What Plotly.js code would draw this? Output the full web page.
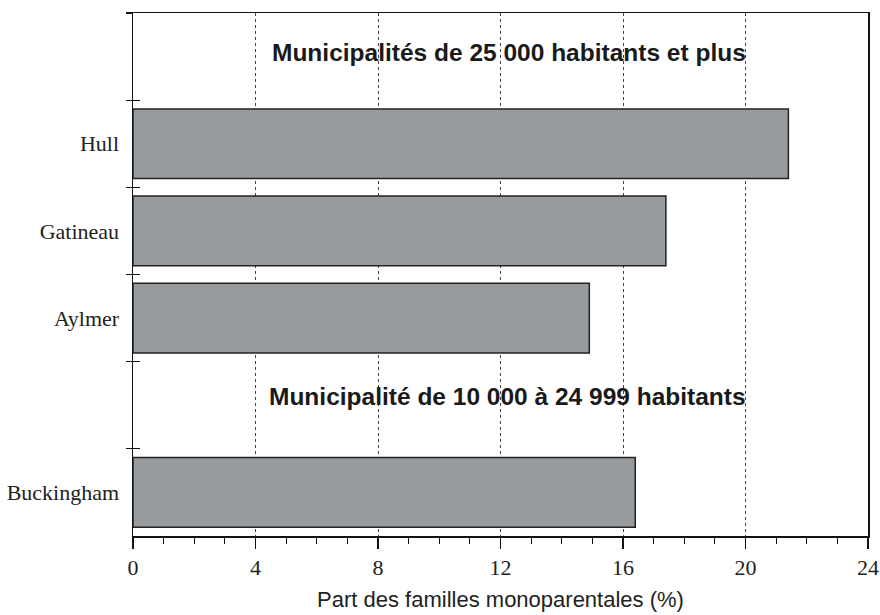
<!DOCTYPE html>
<html>
<head>
<meta charset="utf-8">
<script src="https://cdn.plot.ly/plotly-3.0.1.min.js"></script>
<style>html,body{margin:0;padding:0;background:#fff;}#chart{width:880px;height:615px;}</style>
</head>
<body>
<div id="chart"></div>
<script>
// Data
var municipalities = ['Hull', 'Gatineau', 'Aylmer', 'Buckingham'];
var shares = [21.4, 17.4, 14.9, 16.4];
var groupHeadings = ['Municipalités de 25 000 habitants et plus', 'Municipalité de 10 000 à 24 999 habitants'];
var headingSlots = [' ', '  '];
var slotOrder = [' ', 'Hull', 'Gatineau', 'Aylmer', '  ', 'Buckingham'];
var xTicks = [0, 4, 8, 12, 16, 20, 24];
var xTitle = 'Part des familles monoparentales (%)';

var serif = 'Liberation Serif, Times New Roman, serif';
var sans = 'Liberation Sans, Arial, sans-serif';

var traces = [
  {
    type: 'bar',
    orientation: 'h',
    y: municipalities,
    x: shares,
    marker: {color: '#989b9e', line: {color: '#222222', width: 1.5}},
    width: 0.8,
    hoverinfo: 'x+y'
  },
  {
    type: 'scatter',
    mode: 'markers',
    y: slotOrder,
    x: slotOrder.map(function(){return null;}),
    yaxis: 'y2',
    hoverinfo: 'skip',
    showlegend: false
  }
];

var yBase = {
  type: 'category',
  categoryorder: 'array',
  categoryarray: slotOrder,
  range: [5.5, -0.5],
  tickson: 'boundaries',
  showgrid: false,
  zeroline: false,
  fixedrange: true
};

var layout = {
  width: 880,
  height: 615,
  margin: {l: 133, r: 12, t: 12.5, b: 79},
  paper_bgcolor: '#ffffff',
  plot_bgcolor: '#ffffff',
  showlegend: false,
  xaxis: {
    range: [0, 24],
    tickvals: xTicks,
    ticks: 'outside',
    ticklen: 11,
    tickwidth: 1.2,
    tickcolor: '#111',
    minor: {dtick: 1, ticks: 'outside', ticklen: 6, tickwidth: 1, tickcolor: '#111', showgrid: false},
    showgrid: true,
    gridcolor: '#444',
    griddash: 'dot',
    gridwidth: 1,
    zeroline: false,
    showline: true,
    linecolor: '#111',
    linewidth: 1.5,
    mirror: true,
    tickfont: {family: serif, size: 22, color: '#222'},
    title: {text: xTitle, font: {family: sans, size: 22, color: '#222'}, standoff: 12}
  },
  yaxis: Object.assign({}, yBase, {
    ticks: 'outside',
    ticklen: 6,
    tickwidth: 1.2,
    tickcolor: '#111',
    showline: true,
    linecolor: '#111',
    linewidth: 1.5,
    mirror: true,
    ticklabelstandoff: 8,
    tickfont: {family: serif, size: 22, color: '#222'}
  }),
  yaxis2: Object.assign({}, yBase, {
    overlaying: 'y',
    side: 'left',
    ticks: 'inside',
    ticklen: 7,
    tickwidth: 1.2,
    tickcolor: '#111',
    showticklabels: false,
    showline: false
  }),
  annotations: [
    {x: 4.47, y: headingSlots[0], xref: 'x', yref: 'y', xanchor: 'left', yanchor: 'middle', yshift: 4,
     text: '<b>' + groupHeadings[0] + '</b>', showarrow: false, font: {family: sans, size: 24.5, color: '#1a1a1a'}},
    {x: 4.37, y: headingSlots[1], xref: 'x', yref: 'y', xanchor: 'left', yanchor: 'middle', yshift: 9,
     text: '<b>' + groupHeadings[1] + '</b>', showarrow: false, font: {family: sans, size: 24.5, color: '#1a1a1a'}}
  ]
};

Plotly.newPlot('chart', traces, layout, {displayModeBar: false, staticPlot: true});
</script>
</body>
</html>
